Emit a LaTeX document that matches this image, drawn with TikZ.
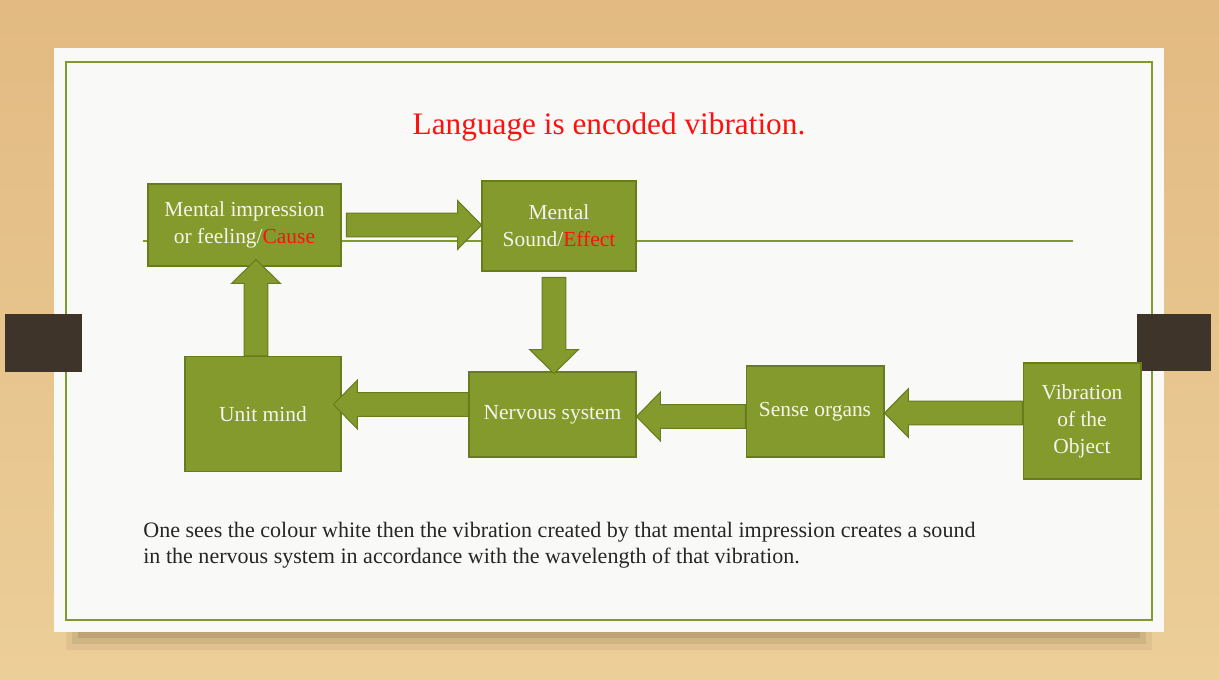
\documentclass[tikz,border=0pt]{standalone}
\usepackage{fontspec}
\setmainfont{Liberation Serif}
\usetikzlibrary{calc}

% Block arrow from #1 (tail) to #2 (tip), any direction.
\newcommand\fatarrow[2]{%
  \draw[fatarr] let \p1=(#1), \p2=(#2),
    \n1={atan2(\y2-\y1,\x2-\x1)}, \n2={veclen(\x2-\x1,\y2-\y1)} in
    {[shift={(\p1)},rotate=\n1]
     (0pt,-6.8pt) -- ({\n2-13.6pt},-6.8pt) -- ({\n2-13.6pt},-13.9pt) -- (\n2,0pt)
     -- ({\n2-13.6pt},13.9pt) -- ({\n2-13.6pt},6.8pt) -- (0pt,6.8pt) -- cycle};}

\begin{document}
\begin{tikzpicture}[x=0.02cm,y=-0.02cm,
  box/.style={draw=boxedge,fill=boxfill,line width=0.6pt,text=boxtext,
    align=center,inner sep=0pt,font=\fontsize{12.2}{15.3}\selectfont},
  fatarr/.style={draw=boxedge,fill=boxfill,line width=0.6pt,line join=miter}]
\definecolor{woodtop}{RGB}{226,186,130}
\definecolor{woodmid}{RGB}{238,208,158}
\definecolor{woodbot}{RGB}{236,206,152}
\definecolor{cardwhite}{RGB}{249,249,248}
\definecolor{framegreen}{RGB}{128,154,46}
\definecolor{boxfill}{RGB}{132,154,44}
\definecolor{boxedge}{RGB}{104,124,30}
\definecolor{boxtext}{RGB}{244,244,236}
\definecolor{tabdark}{RGB}{62,52,42}
\definecolor{hotred}{RGB}{255,16,16}

\useasboundingbox (0,0) rectangle (1219,679);

% Wooden backdrop, card with its shadow and frame.
\shade[top color=woodtop,middle color=woodmid,bottom color=woodbot]
  (0,0) rectangle (1219,679);
\fill[black,opacity=0.05] (66,630) rectangle (1152,650);
\fill[black,opacity=0.07] (72,630) rectangle (1146,644);
\fill[black,opacity=0.09] (78,630) rectangle (1140,638);
\fill[cardwhite] (54,48) rectangle (1164,632);
\draw[framegreen,line width=1pt] (66,62) rectangle (1152,620);

% Guide line behind the top row.
\coordinate (rule-l) at (143,241);
\coordinate (rule-r) at (1073,241);
\draw[framegreen,line width=0.8pt] (rule-l) -- (rule-r);

% Binder tabs.
\fill[tabdark] (5,314) rectangle (82,372);
\fill[tabdark] (1137,314) rectangle (1211,371);

\node[text=hotred,font=\fontsize{17.8}{21}\selectfont,anchor=base]
  (title) at (609,134) {Language is encoded vibration.};

% Boxes.
\node[box,minimum width=3.86cm,minimum height=1.64cm] (imp) at (244.5,225)
  {Mental impression\\or feeling/\textcolor{hotred}{Cause}};
\node[box,minimum width=3.08cm,minimum height=1.80cm] (snd) at (559,226)
  {Mental\\Sound/\textcolor{hotred}{Effect}};
\node[box,minimum width=3.12cm,minimum height=2.30cm] (mind) at (263,414)
  {Unit mind};
\node[box,minimum width=3.34cm,minimum height=1.70cm] (nerv) at (552.5,414.5)
  {Nervous system};
\node[box,minimum width=2.76cm,minimum height=1.82cm] (sense) at (815,411.5)
  {Sense organs};
\node[box,minimum width=2.36cm,minimum height=2.32cm] (vib) at (1082,421)
  {Vibration\\of the\\Object};

% Block arrows.
\coordinate (dn) at ($(snd.south)+(-5,0)$);
\fatarrow{$(imp.east)+(5,0)$}{imp.east -| snd.west}
\fatarrow{$(dn)+(0,6)$}{$(dn |- nerv.north)+(0,2)$}
\fatarrow{$(mind.north)+(-7,0)$}{$(mind.north |- imp.south)+(-7,-7)$}
\fatarrow{$(nerv.west)+(0,-10)$}{$(mind.east |- nerv.west)+(-8,-10)$}
\fatarrow{$(sense.west)+(0,5)$}{$(nerv.east |- sense.west)+(0,5)$}
\fatarrow{$(vib.west)+(0,-8)$}{$(sense.east |- vib.west)+(0,-8)$}

% Caption under the diagram.
\node[anchor=base west,align=left,inner sep=0pt,
  font=\fontsize{12.55}{14.7}\selectfont,text=black!85] (note) at (143,563)
  {One sees the colour white then the vibration created by that mental impression creates a sound\\
   in the nervous system in accordance with the wavelength of that vibration.};
\end{tikzpicture}
\end{document}
